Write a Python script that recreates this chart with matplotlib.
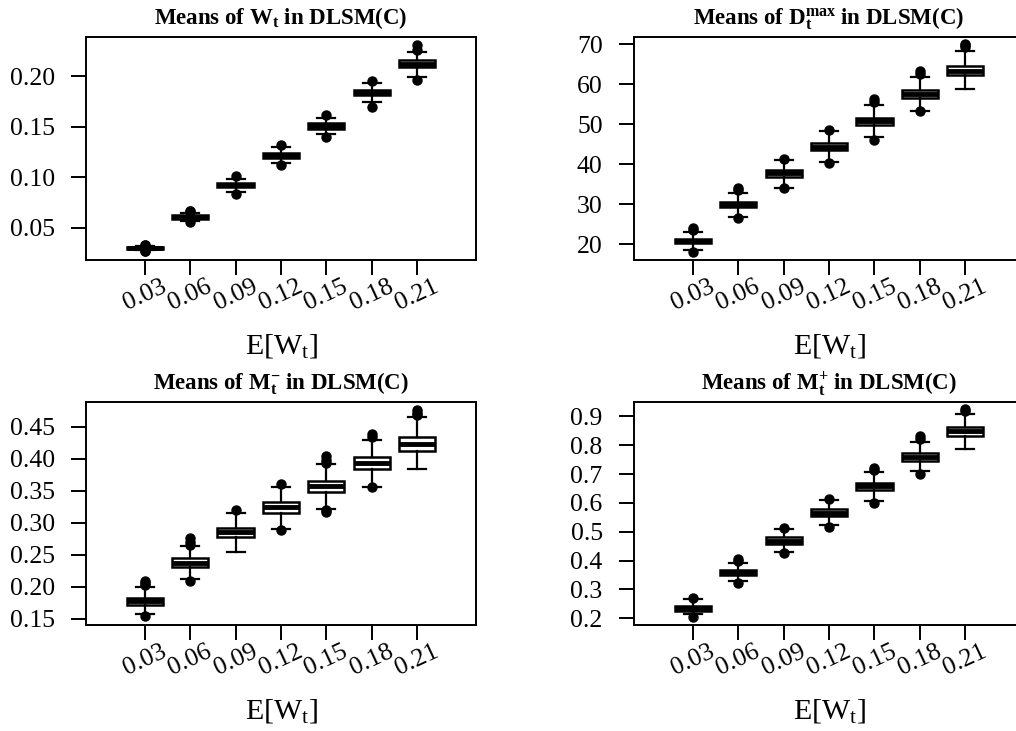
import matplotlib
matplotlib.use("Agg")
import matplotlib.pyplot as plt

plt.rcParams['font.family'] = ['Liberation Serif', 'DejaVu Serif']
plt.rcParams['mathtext.fontset'] = 'custom'
plt.rcParams['mathtext.rm'] = 'Liberation Serif'
plt.rcParams['mathtext.it'] = 'Liberation Serif:italic'
plt.rcParams['mathtext.bf'] = 'Liberation Serif:bold'

# categories (x axis)
ew_labels = ["0.03", "0.06", "0.09", "0.12", "0.15", "0.18", "0.21"]

# Means of W_t
w_med = [0.0302, 0.0612, 0.0924, 0.1217, 0.1507, 0.1836, 0.2122]
w_q1 = [0.0289, 0.0592, 0.0901, 0.1194, 0.1481, 0.1810, 0.2088]
w_q3 = [0.0316, 0.0632, 0.0948, 0.1241, 0.1534, 0.1863, 0.2158]
w_wlo = [0.0285, 0.0570, 0.0859, 0.1140, 0.1424, 0.1747, 0.1993]
w_whi = [0.0322, 0.0650, 0.0984, 0.1300, 0.1582, 0.1928, 0.2240]
w_fl = [[0.0270, 0.0275, 0.0330, 0.0335], [0.0555, 0.0665, 0.0670], [0.0836, 0.1013],
        [0.1125, 0.1316], [0.1400, 0.1615], [0.1691, 0.1951], [0.1960, 0.2257, 0.2309]]

# Means of D_t^max
d_med = [20.8, 29.9, 37.75, 44.4, 50.7, 57.5, 63.4]
d_q1 = [20.3, 29.3, 36.95, 43.5, 49.7, 56.6, 62.3]
d_q3 = [21.4, 30.6, 38.55, 45.3, 51.55, 58.55, 64.55]
d_wlo = [18.6, 26.9, 34.1, 40.7, 46.7, 53.4, 58.7]
d_whi = [23.0, 32.8, 41.2, 48.3, 54.75, 61.9, 68.2]
d_fl = [[18.2, 23.6, 24.0], [26.7, 33.6, 34.2], [34.0, 41.4], [40.4, 48.6],
        [46.1, 55.6, 56.2], [53.2, 62.6, 63.4], [69.2, 69.7, 70.1]]

# Means of M_t^-
mm_med = [0.1782, 0.2382, 0.2852, 0.3243, 0.3572, 0.3932, 0.4240]
mm_q1 = [0.1724, 0.2314, 0.2773, 0.3149, 0.3483, 0.3838, 0.4130]
mm_q3 = [0.1834, 0.2450, 0.2925, 0.3327, 0.3651, 0.4026, 0.4339]
mm_wlo = [0.1578, 0.2121, 0.2544, 0.2904, 0.3222, 0.3567, 0.3838]
mm_whi = [0.2001, 0.2633, 0.3160, 0.3567, 0.3917, 0.4303, 0.4652]
mm_fl = [[0.1542, 0.2030, 0.2060, 0.2095], [0.2100, 0.2660, 0.2700, 0.2763], [0.3196],
         [0.2883, 0.3614], [0.3165, 0.3200, 0.3940, 0.3990, 0.4042],
         [0.3562, 0.4340, 0.4392], [0.4680, 0.4720, 0.4767]]

# Means of M_t^+
mp_med = [0.2358, 0.3594, 0.4690, 0.5660, 0.6573, 0.7589, 0.8478]
mp_q1 = [0.2271, 0.3495, 0.4569, 0.5539, 0.6440, 0.7456, 0.8322]
mp_q3 = [0.2445, 0.3692, 0.4812, 0.5782, 0.6706, 0.7722, 0.8634]
mp_wlo = [0.2139, 0.3293, 0.4286, 0.5233, 0.6076, 0.7104, 0.7855]
mp_whi = [0.2658, 0.3928, 0.5095, 0.6088, 0.7058, 0.8109, 0.9079]
mp_fl = [[0.2058, 0.2716], [0.3212, 0.3980, 0.4044], [0.4252, 0.5118], [0.5164, 0.6134],
         [0.6007, 0.7150, 0.7219], [0.6988, 0.8200, 0.8316], [0.9180, 0.9240]]


def make_stats(med, q1, q3, wlo, whi, fl):
    return [dict(med=med[i], q1=q1[i], q3=q3[i], whislo=wlo[i], whishi=whi[i], fliers=fl[i])
            for i in range(len(med))]


fig = plt.figure(figsize=(10.16, 7.31), dpi=100)

panels = [
    (r"Means of $\mathbf{W_t}$ in DLSM(C)", make_stats(w_med, w_q1, w_q3, w_wlo, w_whi, w_fl),
     [0.05, 0.10, 0.15, 0.20], "{:.2f}", (0.0184, 0.2385), [0.0846, 0.6443]),
    (r"Means of $\mathbf{D_t^{max}}$ in DLSM(C)", make_stats(d_med, d_q1, d_q3, d_wlo, d_whi, d_fl),
     [20, 30, 40, 50, 60, 70], "{:.0f}", (16.1, 71.8), [0.624, 0.6443]),
    (r"Means of $\mathbf{M_t^{-}}$ in DLSM(C)", make_stats(mm_med, mm_q1, mm_q3, mm_wlo, mm_whi, mm_fl),
     [0.15, 0.20, 0.25, 0.30, 0.35, 0.40, 0.45], "{:.2f}", (0.1406, 0.489), [0.0846, 0.145]),
    (r"Means of $\mathbf{M_t^{+}}$ in DLSM(C)", make_stats(mp_med, mp_q1, mp_q3, mp_wlo, mp_whi, mp_fl),
     [0.2, 0.3, 0.4, 0.5, 0.6, 0.7, 0.8, 0.9], "{:.1f}", (0.177, 0.9496), [0.624, 0.145]),
]

pos = list(range(1, len(ew_labels) + 1))

for title, stats, yt, fmt, ylim, (left, bottom) in panels:
    ax = fig.add_axes([left, bottom, 0.3839, 0.3051])
    ax.bxp(stats, positions=pos, widths=0.8, capwidths=0.4, patch_artist=True,
           boxprops=dict(facecolor='white', edgecolor='black', linewidth=1.8),
           medianprops=dict(color='black', linewidth=3.5, solid_capstyle='butt'),
           whiskerprops=dict(color='black', linewidth=1.6),
           capprops=dict(color='black', linewidth=1.6),
           flierprops=dict(marker='o', markerfacecolor='black', markeredgecolor='black', markersize=6.5))
    ax.set_xlim(-0.3, 8.3)
    ax.set_ylim(*ylim)
    ax.set_yticks(yt)
    ax.set_yticklabels([fmt.format(v) for v in yt])
    ax.set_xticks(pos)
    ax.set_xticklabels(ew_labels, rotation=25, ha='center', va='center', rotation_mode='anchor')
    ax.tick_params(axis='both', direction='out', length=10.5, width=1.4, labelsize=18.5)
    ax.tick_params(axis='x', pad=15)
    ax.tick_params(axis='y', pad=12)
    for sp in ax.spines.values():
        sp.set_linewidth(1.4)
    ax.set_title(title, fontsize=16.5, fontweight='bold', pad=9)
    ax.text(0.5, -0.385, r"$\mathrm{E[W_t]}$", transform=ax.transAxes,
            ha='center', va='center', fontsize=21.5)

fig.savefig("out.png", dpi=100)
